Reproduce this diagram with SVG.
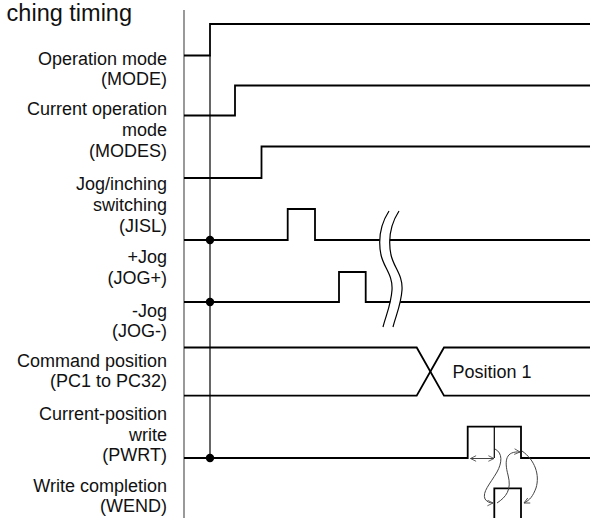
<svg xmlns="http://www.w3.org/2000/svg" width="590" height="518" viewBox="0 0 590 518">
<style>
.lbl{font-family:"Liberation Sans",Arial,sans-serif;font-size:18px;fill:#111;text-anchor:end}
.sig{fill:none;stroke:#000;stroke-width:1.8;stroke-linejoin:miter}
.thin{fill:none;stroke:#000;stroke-width:1.2}
.arr{fill:none;stroke:#444;stroke-width:1}
</style>
<defs>
<marker id="ah" viewBox="0 0 10 10" refX="9" refY="5" markerWidth="7" markerHeight="7" orient="auto-start-reverse" markerUnits="userSpaceOnUse">
<path d="M1,1 L9,5 L1,9" fill="none" stroke="#444" stroke-width="1.2"/>
</marker>
</defs>
<rect width="590" height="518" fill="#fff"/>
<text x="132" y="20.5" font-family="'Liberation Sans',Arial,sans-serif" font-size="23.5" fill="#111" text-anchor="end">ching timing</text>
<line x1="184" y1="10" x2="184" y2="518" stroke="#808080" stroke-width="1.6"/>

<g id="mode">
<text class="lbl" x="167" y="64.5">Operation mode</text>
<text class="lbl" x="167" y="84.5">(MODE)</text>
<path class="sig" d="M184,55.5 H210 V24 H590"/>
</g>
<g id="modes">
<text class="lbl" x="167" y="115">Current operation</text>
<text class="lbl" x="167" y="136">mode</text>
<text class="lbl" x="167" y="157">(MODES)</text>
<path class="sig" d="M184,115.5 H235 V85.5 H590"/>
<path class="sig" d="M184,178 H261.5 V146.5 H590"/>
</g>
<g id="jisl">
<text class="lbl" x="167" y="190">Jog/inching</text>
<text class="lbl" x="167" y="211">switching</text>
<text class="lbl" x="167" y="232">(JISL)</text>
<path class="sig" d="M184,240 H287.7 V209 H315 V240 H590"/>
</g>
<g id="jogp">
<text class="lbl" x="167" y="262.5">+Jog</text>
<text class="lbl" x="167" y="283.5">(JOG+)</text>
<path class="sig" d="M184,302 H339 V272 H365.7 V302 H590"/>
</g>
<g id="jogm">
<text class="lbl" x="167" y="316.5">-Jog</text>
<text class="lbl" x="167" y="337">(JOG-)</text>
</g>
<g id="break">
<path d="M389,211 C380,225 378,240 381,255 C384,268 393,275 392,290 C391,305 386,315 383,327 L393,327 C396,315 401,305 402,290 C403,275 394,268 391,255 C388,240 390,225 399,211 Z" fill="#fff" stroke="none"/>
<path class="thin" d="M389,211 C380,225 378,240 381,255 C384,268 393,275 392,290 C391,305 386,315 383,327"/>
<path class="thin" d="M399,211 C390,225 388,240 391,255 C394,268 403,275 402,290 C401,305 396,315 393,327"/>
</g>
<g id="pc">
<text class="lbl" x="167" y="366.5">Command position</text>
<text class="lbl" x="167" y="387">(PC1 to PC32)</text>
<path class="sig" d="M184,347.5 H416.7 L444,395.7 H590"/>
<path class="sig" d="M184,395.7 H416.7 L444,347.5 H590"/>
<text x="452.5" y="377.5" font-family="'Liberation Sans',Arial,sans-serif" font-size="18" fill="#111">Position 1</text>
</g>
<g id="pwrt">
<text class="lbl" x="167" y="420">Current-position</text>
<text class="lbl" x="167" y="440.5">write</text>
<text class="lbl" x="167" y="461">(PWRT)</text>
<path class="sig" d="M184,458 H467.7 V426.7 H521 V458 H590"/>
<line class="thin" x1="494.3" y1="426.7" x2="494.3" y2="458" stroke-width="1"/>
</g>
<g id="wend">
<text class="lbl" x="167" y="491.5">Write completion</text>
<text class="lbl" x="167" y="511.5">(WEND)</text>
<path class="sig" d="M494.3,519 V488.3 H521 V519"/>
</g>
<g id="connectors">
<line x1="210" y1="55" x2="210" y2="458" stroke="#000" stroke-width="1.2"/>
<circle cx="210" cy="240" r="4.2" fill="#000"/>
<circle cx="210" cy="302" r="4.2" fill="#000"/>
<circle cx="210" cy="458" r="4.2" fill="#000"/>
<line class="arr" x1="470.5" y1="458.5" x2="494" y2="458.5" marker-start="url(#ah)" marker-end="url(#ah)"/>
<path class="arr" d="M495,449 C503,453 502,463 497,472 C490,484 482,492 485,499 C487,502 490,503 493,503" marker-end="url(#ah)"/>
<path class="arr" d="M497,503 C506,497 512,490 508,475 C504,460 506,451 520,452" marker-end="url(#ah)"/>
<path class="arr" d="M522,451 C535,460 540,475 536,488 C533,496 530,500 524,503" marker-end="url(#ah)"/>
</g>
</svg>
